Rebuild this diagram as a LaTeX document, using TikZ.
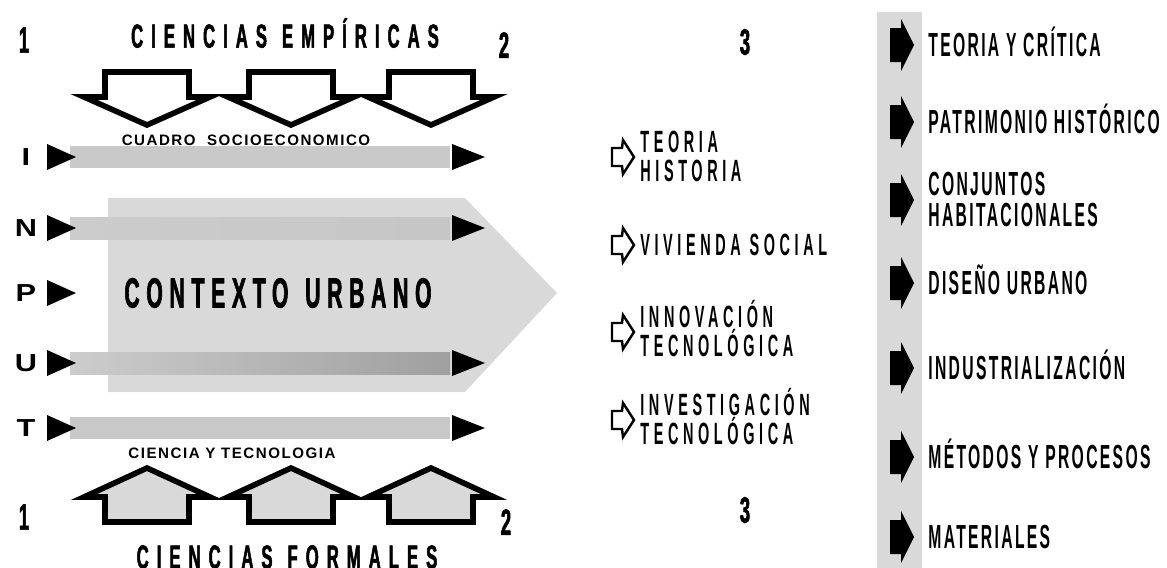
\documentclass[tikz,border=0pt]{standalone}
\usepackage{fontspec}
\setmainfont{Liberation Sans}
\newfontfamily\gothic[FakeStretch=0.47]{Liberation Sans}
\newfontfamily\heavy[FakeStretch=0.5,FakeBold=1.5]{Liberation Sans}
\newfontfamily\blockfont[FakeStretch=1.25]{Liberation Sans}

\begin{document}
\begin{tikzpicture}[x=0.02cm, y=-0.02cm,
	num/.style={font=\heavy\bfseries\fontsize{21}{21}\selectfont, inner sep=0pt},
	heading/.style={font=\heavy\bfseries\fontsize{19}{19}\selectfont\addfontfeatures{LetterSpace=24}, inner sep=0pt},
	caption/.style={font=\bfseries\fontsize{8.6}{9}\selectfont\addfontfeatures{LetterSpace=10}, inner sep=0pt},
	rowletter/.style={font=\blockfont\bfseries\fontsize{14}{14}\selectfont, inner sep=0pt},
	area/.style={font=\gothic\bfseries\fontsize{17.5}{18}\selectfont\addfontfeatures{LetterSpace=15}, inner sep=0pt, anchor=west, text height=12.5pt, text depth=0pt},
	field/.style={font=\gothic\bfseries\fontsize{19}{19}\selectfont\addfontfeatures{LetterSpace=7}, inner sep=0pt, anchor=west, text height=13.6pt, text depth=0pt},
	halftone/.style={fill=gray!30, draw=none},
	band/.style={fill=gray!42, draw=none},
	]
	
	\useasboundingbox (0,0) rectangle (1167,568);
	
	% Ciencias empiricas
	\node[num] (uno) at (24,40) {1};
	\node[heading] (empiricas) at (285,33) {CIENCIAS\hspace{0.45em}EMPÍRICAS};
	\node[num] (dos) at (504,45) {2};
	\foreach \cx in {147,291,431}{
		\draw[line width=3.2pt, line join=miter, fill=white] (\cx-42,72) -- (\cx+42,72) -- (\cx+42,97)
			-- (\cx+63,97) -- (\cx,125) -- (\cx-63,97) -- (\cx-42,97) -- cycle;
	}
	\node[caption] (cuadro) at (246,140) {CUADRO\ \ SOCIOECONOMICO};
	
	% Contexto urbano
	\fill[halftone] (108,198) -- (465,198) -- (557,293) -- (465,392) -- (108,392) -- cycle;
	
	% Input rows
	\fill[band] (70,146) rectangle (450,168);
	\shade[left color=gray!40, middle color=gray!75, right color=gray!45] (70,217) rectangle (450,239);
	\shade[left color=gray!40, right color=gray!75] (70,352) rectangle (450,374);
	\fill[band] (70,417) rectangle (450,439);
	\foreach \ry/\lab in {157/I,228/N,293/P,363/U,428/T}{
		\node[rowletter] (row\lab) at (26,\ry) {\lab};
		\fill (47,\ry-13) -- (76,\ry) -- (47,\ry+13) -- cycle;
	}
	\foreach \ry in {157,228,363,428}{
		\fill (452,\ry-13) -- (485,\ry) -- (452,\ry+13) -- cycle;
	}
	\node[font=\heavy\bfseries\fontsize{24}{24}\selectfont\addfontfeatures{LetterSpace=16}, inner sep=0pt] (contexto) at (278,293) {CONTEXTO\hspace{0.4em}URBANO};
	
	% Ciencias formales
	\node[caption] (ciencia) at (232,453) {CIENCIA Y TECNOLOGIA};
	\foreach \cx in {147,291,431}{
		\draw[line width=3.2pt, line join=miter, fill=gray!30] (\cx-42,522) -- (\cx+42,522) -- (\cx+42,497)
			-- (\cx+63,497) -- (\cx,468) -- (\cx-63,497) -- (\cx-42,497) -- cycle;
	}
	\node[num] (unob) at (24,517) {1};
	\node[num] (dosb) at (506,522) {2};
	\node[heading] (formales) at (287,557) {CIENCIAS\hspace{0.45em}FORMALES};
	
	% Areas
	\node[num] (tres) at (745,42) {3};
	\node[num] (tresb) at (745,510) {3};
	\foreach \my in {157,245,332,420}{
		\draw[line width=1.4pt, line join=miter, fill=white] (612,\my-9) -- (622,\my-9) -- (623,\my-17)
			-- (634,\my) -- (623,\my+17) -- (622,\my+9) -- (612,\my+9) -- cycle;
	}
	\node[area] (teoria) at (640,142) {TEORIA};
	\node[area] (historia) at (640,171) {HISTORIA};
	\node[area] (vivienda) at (640,245) {VIVIENDA SOCIAL};
	\node[area] (innovacion) at (640,317) {INNOVACIÓN};
	\node[area] (tecuno) at (640,346) {TECNOLÓGICA};
	\node[area] (investigacion) at (640,405) {INVESTIGACIÓN};
	\node[area] (tecdos) at (640,434) {TECNOLÓGICA};
	
	% Campos
	\fill[halftone] (877,12) rectangle (922,568);
	\foreach \ay in {45,122,200,283,368,457,537}{
		\fill (890,\ay-17) -- (901,\ay-17) -- (901,\ay-26) -- (914,\ay) -- (901,\ay+26)
			-- (901,\ay+17) -- (890,\ay+17) -- cycle;
	}
	\node[field] (critica) at (928,45) {TEORIA Y CRÍTICA};
	\node[field] (patrimonio) at (928,122) {PATRIMONIO HISTÓRICO};
	\node[field] (conjuntos) at (928,184) {CONJUNTOS};
	\node[field] (habitacionales) at (928,215) {HABITACIONALES};
	\node[field] (diseno) at (928,283) {DISEÑO URBANO};
	\node[field] (industria) at (928,368) {INDUSTRIALIZACIÓN};
	\node[field] (metodos) at (928,457) {MÉTODOS Y PROCESOS};
	\node[field] (materiales) at (928,537) {MATERIALES};
	
\end{tikzpicture}
\end{document}
